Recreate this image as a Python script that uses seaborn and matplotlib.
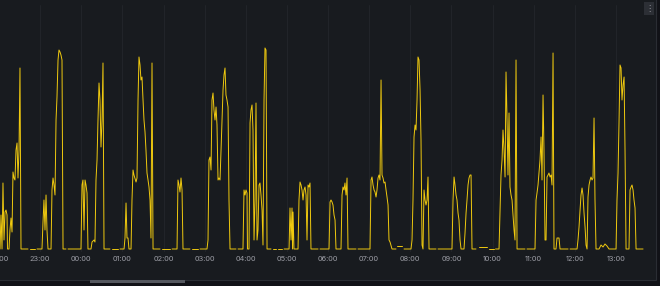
import numpy as np
import pandas as pd
import matplotlib
matplotlib.use("Agg")
import matplotlib.pyplot as plt
import matplotlib.dates as mdates
from matplotlib.patches import Rectangle
import seaborn as sns

nan = float("nan")
START = pd.Timestamp("2024-05-13 22:00")

# minutes after 22:00 and readings (NaN = gap in the series)
night_minutes = [1.5, 2.9, 4.4, 5.8, 7.3, 8.8, 10.2, 11.7, 12.4, 14.6, 16.0, 17.5, 19.0, 20.4, 21.9, 23.3, 24.8, 26.3, 27.7, 29.2, 30.6, 32.1, 42.3, 43.8, 45.2, 52.5, 54.0, 55.4, 62.7,
                 64.2, 65.6, 67.1, 68.6, 70.0, 71.5, 75.9, 77.3, 78.8, 80.2, 81.7, 83.2, 84.6, 86.1, 87.5, 89.0, 90.4, 91.9, 93.4, 97.7, 99.2, 100.7, 119.6,
                 121.1, 122.5, 124.0, 125.5, 126.9, 128.4, 129.8, 134.2, 135.7, 138.6, 140.0, 141.5, 143.0, 144.4, 145.9, 147.3, 148.8, 150.3, 151.7, 153.2, 161.9, 163.4, 164.8, 173.6, 175.1, 176.5, 182.4,
                 183.8, 185.3, 186.7, 188.2, 189.6, 192.6, 194.0, 195.5, 196.9, 199.9, 201.3, 202.8, 204.2, 205.7, 207.1, 208.6, 210.1, 211.5, 213.0, 214.4, 215.9, 217.4, 218.8, 220.3, 221.7, 223.2, 224.7, 234.9, 236.3, 237.8, 249.5, 250.9, 252.4, 259.7]
night_values = [0, 34, 0, 66, 9, 37, 39, 34, 0, 0, 19, 31, 17, 77, 71, 69, 99, 106, 71, 99, 181, 0, 0, nan, 0, 0, nan, 0, 0,
                27, 49, 19, 54, 19, 0, 0, 59, 71, 64, 54, 129, 152, 189, 199, 197, 194, 189, 0, 0, nan, 0, 0,
                64, 69, 19, 69, 64, 56, 0, 0, 7, 9, 7, 69, 89, 129, 166, 149, 102, 129, 186, 0, 0, nan, 0, 0, nan, 0, 0,
                11, 46, 11, 11, 0, 0, 49, 79, 74, 67, 71, 149, 192, 184, 169, 172, 149, 129, 117, 99, 76, 69, 62, 49, 11, 186, 0, 0, nan, 0, 0, nan, 0, 0]

early_minutes = [261.1, 262.6, 264.0, 265.5, 267.0, 268.4, 278.6, 280.1, 281.5, 290.3, 291.8, 293.2, 303.4,
                 304.9, 306.3, 307.8, 309.3, 310.7, 312.2, 313.6, 315.1, 316.6, 318.0, 319.5, 320.9, 322.4, 323.9, 326.8, 328.2, 329.7, 331.1, 332.6, 334.1, 335.5, 337.0, 345.7, 347.2, 348.7, 355.9,
                 357.4, 358.9, 360.3, 361.8, 362.5, 364.7, 366.2, 367.6, 369.1, 370.5, 372.0, 373.5, 374.9, 376.4, 377.8, 379.3, 380.7, 382.2, 383.7, 385.1, 386.6, 388.0, 389.5, 391.0, 396.8, 398.3, 399.7, 404.1, 405.5, 407.0, 412.8, 414.3, 415.8, 423.1,
                 424.5, 426.0, 427.4, 428.2, 428.9, 430.3, 436.2, 437.6, 439.1, 440.6, 442.0, 443.5, 444.9, 446.4, 447.9, 449.3, 450.8, 452.2, 453.7, 455.1, 465.4, 466.8, 468.3, 481.4]
early_values = [69, 64, 57, 71, 59, 0, 0, nan, 0, 0, nan, 0, 0,
                9, 89, 92, 79, 149, 156, 139, 129, 142, 124, 69, 71, 69, 99, 159, 174, 181, 154, 149, 142, 49, 0, 0, nan, 0, 0,
                59, 54, 59, 56, 0, 0, 126, 139, 144, 119, 9, 49, 146, 9, 19, 64, 66, 54, 39, 4, 149, 201, 199, 0, 0, nan, 0, 0, nan, 0, 0, nan, 0, 0,
                41, 9, 41, 0, 37, 0, 0, 49, 67, 64, 59, 49, 59, 62, 54, 9, 64, 62, 66, 0, 0, nan, 0, 0]

morning_minutes = [482.9, 484.3, 485.8, 487.2, 488.7, 490.2, 491.6, 498.9, 500.4, 501.8, 503.3, 504.7, 506.2, 507.7, 509.1, 520.8, 522.3, 523.7, 541.2,
                   542.7, 544.1, 545.6, 547.1, 548.5, 550.0, 551.4, 552.9, 554.3, 555.8, 557.3, 558.7, 560.2, 561.6, 563.1, 564.6, 566.0, 567.5, 568.9, 570.4, 573.3, 579.1, 579.9, 580.6, 587.9, 589.4, 590.8, 601.0,
                   602.5, 603.9, 605.4, 606.9, 608.3, 609.8, 611.2, 612.7, 614.2, 615.6, 617.1, 618.5, 620.0, 621.5, 622.9, 624.4, 625.8, 627.3, 637.5, 639.0, 640.4, 660.8,
                   662.3, 663.8, 665.2, 666.7, 668.1, 669.6, 671.0, 672.5, 674.0, 678.3, 679.8, 681.3, 682.7, 684.2, 685.6, 687.1, 688.6, 690.0, 695.8, 698.0, 700.2, 711.9, 713.3, 714.8, 722.1, 723.3, 724.3, 729.4]
morning_values = [47, 49, 47, 44, 34, 29, 0, 0, 54, 62, 59, 66, 54, 71, 0, 0, nan, 0, 0,
                  69, 72, 64, 59, 57, 52, 59, 71, 74, 69, 169, 74, 71, 66, 67, 59, 52, 44, 9, 7, 0, 0, nan, 3, 3, nan, 0, 0,
                  9, 49, 112, 124, 119, 149, 192, 189, 159, 109, 4, 0, 59, 49, 44, 49, 72, 0, 0, nan, 0, 0,
                  49, 72, 64, 54, 49, 36, 29, 9, 0, 0, 16, 36, 49, 64, 71, 74, 74, 0, 0, nan, 2, 2, nan, 0, 0, nan, 0, 0]

midday_minutes = [730.9, 732.3, 733.8, 735.2, 736.7, 738.2, 739.6, 741.1, 742.5, 744.0, 745.4, 746.9, 748.4, 749.8, 751.3, 752.7, 754.2, 755.7, 767.3, 768.8, 770.2, 781.9,
                  783.4, 784.8, 786.3, 787.8, 789.2, 790.7, 792.1, 793.6, 795.0, 796.5, 798.0, 799.4, 800.9, 802.3, 803.8, 805.3, 806.7, 808.2, 809.6, 812.5, 814.0, 816.9, 818.4, 830.1, 831.5, 833.0, 843.2,
                  844.6, 846.1, 847.6, 849.0, 850.5, 851.9, 853.4, 854.9, 856.3, 857.8, 859.2, 860.7, 862.2, 863.6, 865.1, 866.5, 868.0, 869.4, 870.9, 875.3, 878.2, 881.1, 884.0, 886.9, 889.9, 900.1,
                  901.5, 903.0, 904.5, 905.9, 907.4, 908.8, 910.3, 911.8, 913.2, 914.7, 919.0, 920.5, 922.0, 923.4, 924.9, 926.3, 927.8, 929.3, 939.5]
midday_values = [39, 74, 89, 119, 99, 72, 177, 129, 74, 136, 62, 54, 49, 34, 19, 9, 189, 0, 0, nan, 0, 0,
                 49, 56, 64, 77, 89, 112, 69, 154, 99, 9, 9, 72, 74, 76, 72, 74, 64, 196, 0, 0, 11, 11, 0, 0, nan, 0, 0,
                 9, 22, 39, 54, 61, 54, 36, 22, 4, 0, 52, 64, 69, 72, 69, 71, 131, 49, 0, 0, 4, 2, 5, 3, 0, 0,
                 49, 76, 129, 184, 181, 149, 164, 172, 99, 0, 0, 59, 62, 64, 59, 49, 41, 0, 0]

minutes = night_minutes + early_minutes + morning_minutes + midday_minutes
values = night_values + early_values + morning_values + midday_values

df = pd.DataFrame({"time": START + pd.to_timedelta(minutes, unit="min"), "value": values})
df["seg"] = df["value"].isna().cumsum()
df = df.dropna()

sns.set_theme(style="dark")
plt.rcParams["font.family"] = ["Inter", "DejaVu Sans"]

W, H = 660, 286
fig = plt.figure(figsize=(W / 100, H / 100), dpi=100, facecolor="#111217")

# panel
fig.patches.append(Rectangle((-10 / W, 6 / H), 666 / W, 290 / H, transform=fig.transFigure,
                             facecolor="#181b1f", edgecolor="#2a2d33", linewidth=0.8, zorder=-10))
# scrollbar
fig.patches.append(Rectangle((90 / W, 3.5 / H), 95 / W, 2.6 / H, transform=fig.transFigure,
                             facecolor="#55585f", edgecolor="none", zorder=-5))
# menu icon
fig.patches.append(Rectangle((644 / W, (H - 15) / H), 10 / W, 13 / H, transform=fig.transFigure,
                             facecolor="#2c2f35", edgecolor="none", zorder=-5))
fig.text(649 / W, (H - 8.5) / H, "⋮", color="#9a9ba2", fontsize=6, ha="center", va="center",
         family=["DejaVu Sans"])

ax = fig.add_axes([-1 / W, 34 / H, 647 / W, 247 / H])
ax.set_zorder(5)
ax.set_facecolor("none")

sns.lineplot(data=df, x="time", y="value", units="seg", estimator=None, color="#EFC90F",
             linewidth=0.7, ax=ax, legend=False)

ax.set_xlim(START, START + pd.Timedelta(minutes=943.8))
ax.set_ylim(-3, 244)
ax.xaxis.set_major_locator(mdates.HourLocator())
ax.xaxis.set_major_formatter(mdates.DateFormatter("%H:%M"))
ax.set_yticks([])
ax.set_xlabel("")
ax.set_ylabel("")
ax.grid(False)
ax.xaxis.grid(True, color="#22252a", linewidth=0.7)
ax.tick_params(axis="x", length=0, pad=3.2, labelsize=5.3, labelcolor="#9d9ea6")
for s in ax.spines.values():
    s.set_visible(False)

fig.savefig("out.png", dpi=100, facecolor=fig.get_facecolor())
